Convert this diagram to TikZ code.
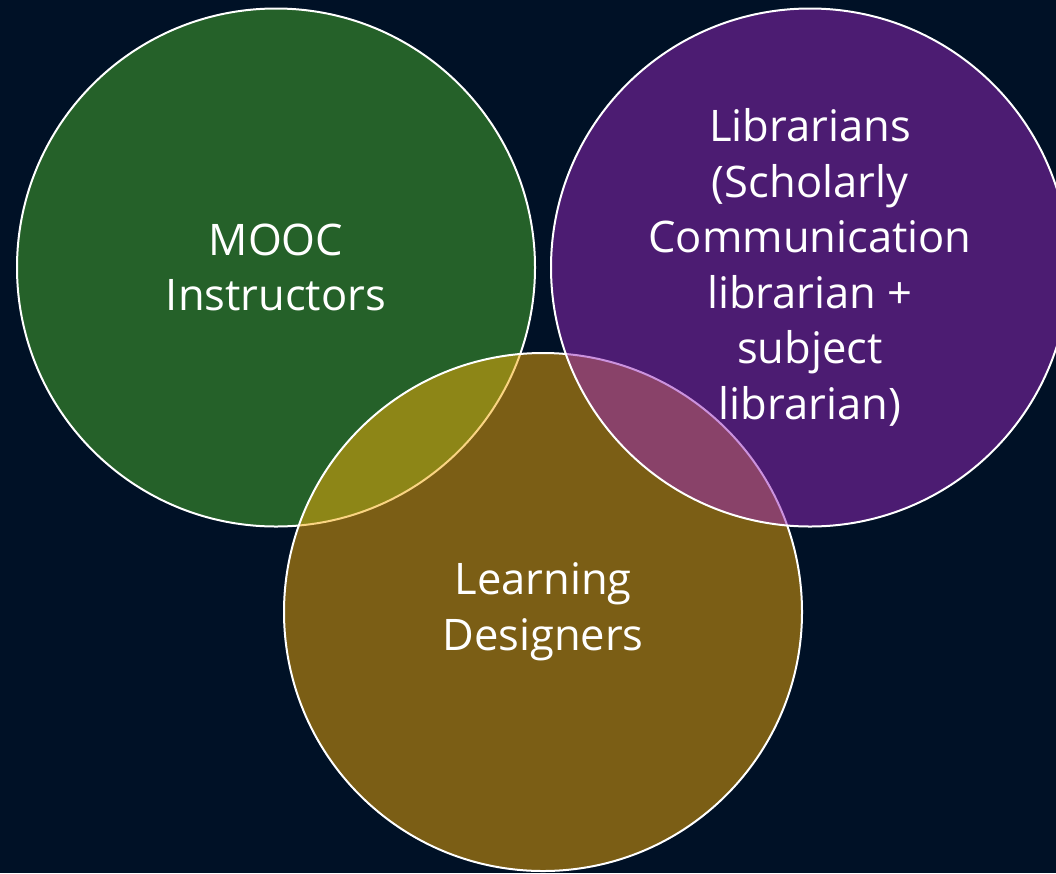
\documentclass[tikz,border=0pt]{standalone}
\usepackage{fontspec}
\setmainfont{Open Sans}
\definecolor{bg}{RGB}{0,17,38}
\definecolor{vgreen}{RGB}{74,177,44}
\definecolor{vgold}{RGB}{246,171,6}
\definecolor{vpurple}{RGB}{152,39,190}
\begin{document}
\begin{tikzpicture}[x=1pt,y=-1pt,
  venn/.style={circle, draw=white, line width=2pt, minimum size=518pt, inner sep=0pt,
    fill opacity=0.5, text opacity=1, draw opacity=1, text=white, align=center,
    font=\fontsize{43.5}{55.5}\selectfont}]
\fill[bg] (0,0) rectangle (1056,873);
\useasboundingbox (0,0) rectangle (1056,873);
\node[venn, fill=vgreen] (mooc) at (276,267.5) {MOOC\\Instructors};
\node[venn, fill=vgold] (ld) at (543,612) {Learning\\Designers};
\node[venn, fill=vpurple] (lib) at (810,267.5) {Librarians\\(Scholarly\\Communication\\librarian +\\subject\\librarian)};
\end{tikzpicture}
\end{document}
